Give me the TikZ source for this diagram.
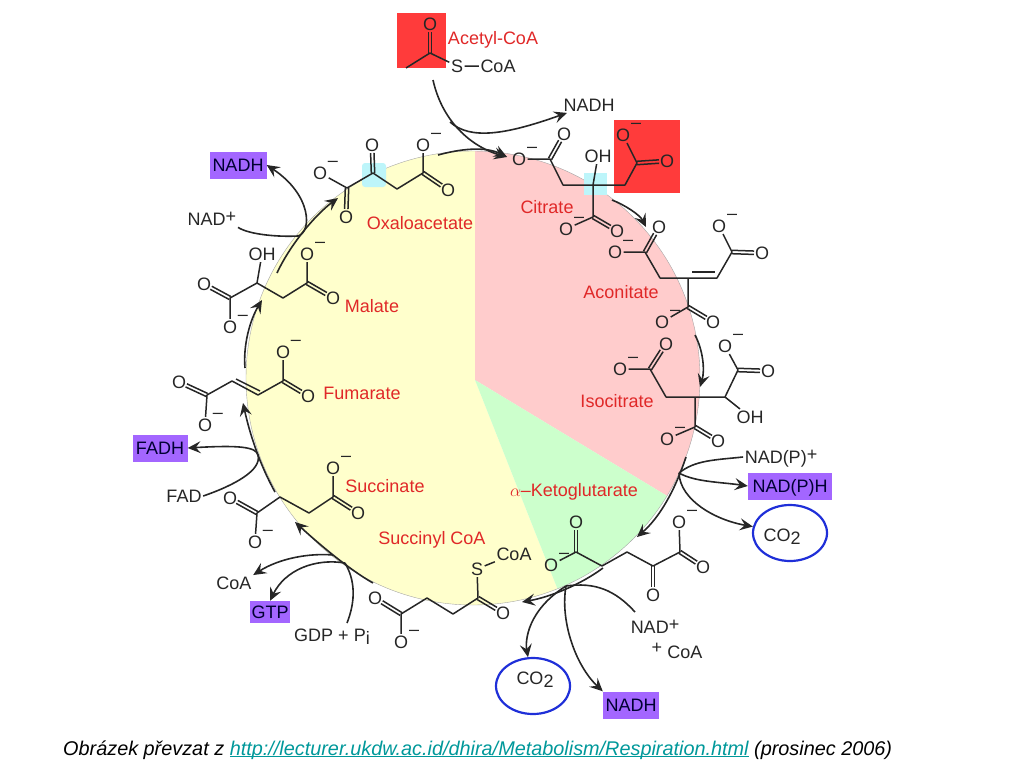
\documentclass[tikz,border=0pt]{standalone}
\usepackage{fontspec}
\setmainfont{Liberation Sans}
\usetikzlibrary{arrows.meta,calc,shapes.geometric}

\definecolor{yellowpie}{HTML}{FFFFCC}
\definecolor{pinkpie}{HTML}{FFCCCC}
\definecolor{greenpie}{HTML}{CCFFCC}
\definecolor{redbox}{HTML}{FF3B3B}
\definecolor{cyanbox}{HTML}{BDF5FA}
\definecolor{purplebox}{HTML}{A366FF}
\definecolor{redtext}{HTML}{E02828}
\definecolor{ringblue}{HTML}{1F2FD8}
\definecolor{linkteal}{HTML}{00989A}
\definecolor{ink}{HTML}{262626}

\tikzset{
  atom/.style={inner sep=1.5pt,text=ink,font=\fontsize{18}{20}\selectfont},
  neg/.style={atom,label={[inner sep=0pt,text=ink,font=\fontsize{18}{20}\selectfont,xshift=13pt,yshift=9pt]center:--}},
  metab/.style={inner sep=1pt,text depth=0pt,text=redtext,font=\fontsize{18}{20}\selectfont},
  lbl/.style={inner sep=1.5pt,text depth=0pt,text=ink,font=\fontsize{18}{20}\selectfont},
  cofact/.style={fill=purplebox,inner sep=0pt,text depth=0pt,minimum height=27pt,text=black!80!blue,font=\fontsize{18}{20}\selectfont},
  ring/.style={ellipse,draw=ringblue,line width=2.2pt,minimum width=74pt,minimum height=56pt,inner sep=0pt},
  bond/.style={draw=ink,line width=1.5pt,line join=round},
  arr/.style={draw=ink,line width=1.6pt,-{Stealth[length=13pt,width=12pt,inset=5pt]}},
  noarr/.style={draw=ink,line width=1.6pt},
}
\newcommand{\dbond}[2]{%
\draw[bond,shorten >=8pt] ($(#1)!1.7pt!90:(#2)$) -- ($(#2)!1.7pt!-90:(#1)$);
\draw[bond,shorten >=8pt] ($(#1)!1.7pt!-90:(#2)$) -- ($(#2)!1.7pt!90:(#1)$);}

\begin{document}
\begin{tikzpicture}[x=1pt,y=-1pt]
\useasboundingbox (0,0) rectangle (1024,768);

% pie
\begin{scope}
\clip (473,378) circle (227);
\fill[yellowpie] (475,100) -- (475,380) -- (584,656) -- (200,656) -- (200,100) -- cycle;
\fill[pinkpie] (475,380) -- (475,100) -- (750,100) -- (750,546) -- cycle;
\fill[greenpie] (475,380) -- (750,546) -- (584,656) -- cycle;
\end{scope}
\draw[black!35,line width=.4pt] (473,378) circle (227);

% coloured boxes
\fill[redbox] (397,13) rectangle (446,68);
\fill[redbox] (614,120) rectangle (680,193);
\fill[cyanbox] (584,173) rectangle (607,195);
\fill[cyanbox,rounded corners=3pt] (362,163) rectangle (386,187);

% acetyl
\node[atom] (aceO) at (430,24) {O};
\node[atom] (aceS) at (457,66) {S};
\node[atom] (aceCoA) at (498,66) {CoA};
\node[metab] (aceName) at (493,38) {Acetyl-CoA};
\coordinate (aceC) at (430,53);
\coordinate (aceMe) at (406,68);
\draw[bond] (aceMe) -- (aceC) -- (aceS) -- (aceCoA);
\dbond{aceC}{aceO}

% citrate
\node[neg] (citOa) at (519,159) {O};
\node[atom] (citOb) at (564,134) {O};
\node[atom] (citOc) at (667,161) {O};
\node[neg] (citOd) at (623,135) {O};
\node[atom] (citOH) at (598,156) {OH};
\node[neg] (citOe) at (566,229) {O};
\node[atom] (citOf) at (617,231) {O};
\node[metab] (citName) at (547,207) {Citrate};
\coordinate (citCa) at (550,159);
\coordinate (citCb) at (563,185);
\coordinate (citCc) at (593,185);
\coordinate (citCd) at (625,185);
\coordinate (citCe) at (637,163);
\coordinate (citCf) at (593,217);
\draw[bond] (citOa) -- (citCa) -- (citCb) -- (citCc) -- (citCd) -- (citCe) -- (citOd);
\draw[bond] (citOH) -- (citCc) -- (citCf) -- (citOe);
\dbond{citCa}{citOb}
\dbond{citCe}{citOc}
\dbond{citCf}{citOf}

% aconitate
\node[neg] (acoOa) at (615,252) {O};
\node[atom] (acoOb) at (659,227) {O};
\node[atom] (acoOc) at (762,253) {O};
\node[neg] (acoOd) at (719,226) {O};
\node[neg] (acoOe) at (662,322) {O};
\node[atom] (acoOf) at (713,322) {O};
\node[metab] (acoName) at (621,292) {Aconitate};
\coordinate (acoCa) at (645,252);
\coordinate (acoCb) at (660,278);
\coordinate (acoCc) at (688,278);
\coordinate (acoCd) at (717,278);
\coordinate (acoCe) at (732,252);
\coordinate (acoCf) at (688,307);
\coordinate (acoDa) at (692,272);
\coordinate (acoDb) at (715,272);
\draw[bond] (acoOa) -- (acoCa) -- (acoCb) -- (acoCd) -- (acoCe) -- (acoOd);
\draw[bond] (acoCc) -- (acoCf) -- (acoOe);
\draw[bond] (acoDa) -- (acoDb);
\dbond{acoCa}{acoOb}
\dbond{acoCe}{acoOc}
\dbond{acoCf}{acoOf}

% isocitrate
\node[neg] (isoOa) at (620,369) {O};
\node[atom] (isoOb) at (666,344) {O};
\node[atom] (isoOc) at (768,371) {O};
\node[neg] (isoOd) at (725,346) {O};
\node[neg] (isoOe) at (667,439) {O};
\node[atom] (isoOf) at (718,441) {O};
\node[atom] (isoOH) at (750,417) {OH};
\node[metab] (isoName) at (617,401) {Isocitrate};
\coordinate (isoCa) at (650,369);
\coordinate (isoCb) at (666,397);
\coordinate (isoCc) at (695,397);
\coordinate (isoCd) at (725,397);
\coordinate (isoCe) at (738,370);
\coordinate (isoCf) at (695,427);
\draw[bond] (isoOa) -- (isoCa) -- (isoCb) -- (isoCd) -- (isoCe) -- (isoOd);
\draw[bond] (isoCd) -- (isoOH);
\draw[bond] (isoCc) -- (isoCf) -- (isoOe);
\dbond{isoCa}{isoOb}
\dbond{isoCe}{isoOc}
\dbond{isoCf}{isoOf}

% ketoglutarate
\node[atom] (kgOa) at (576,522) {O};
\node[neg] (kgOb) at (551,565) {O};
\node[atom] (kgOc) at (653,595) {O};
\node[atom] (kgOd) at (703,567) {O};
\node[neg] (kgOe) at (679,522) {O};
\node[metab] (kgName) at (574,490) {$\alpha$--Ketoglutarate};
\coordinate (kgCa) at (576,552);
\coordinate (kgCb) at (602,566);
\coordinate (kgCc) at (627,552);
\coordinate (kgCd) at (653,566);
\coordinate (kgCe) at (680,552);
\draw[bond] (kgOb) -- (kgCa) -- (kgCb) -- (kgCc) -- (kgCd) -- (kgCe) -- (kgOe);
\dbond{kgCa}{kgOa}
\dbond{kgCd}{kgOc}
\dbond{kgCe}{kgOd}

% succinyl coa
\node[atom] (scoS) at (477,569) {S};
\node[atom] (scoCoA) at (514,554) {CoA};
\node[atom] (scoOa) at (503,613) {O};
\node[atom] (scoOb) at (375,598) {O};
\node[neg] (scoOc) at (401,642) {O};
\node[metab] (scoName) at (432,538) {Succinyl CoA};
\coordinate (scoCa) at (478,598);
\coordinate (scoCb) at (453,614);
\coordinate (scoCc) at (427,598);
\coordinate (scoCd) at (401,614);
\draw[bond] (scoCoA) -- (scoS) -- (scoCa) -- (scoCb) -- (scoCc) -- (scoCd) -- (scoOc);
\dbond{scoCa}{scoOa}
\dbond{scoCd}{scoOb}

% succinate
\node[atom] (sucOa) at (230,498) {O};
\node[neg] (sucOb) at (255,542) {O};
\node[atom] (sucOc) at (358,513) {O};
\node[neg] (sucOd) at (333,468) {O};
\node[metab] (sucName) at (385,486) {Succinate};
\coordinate (sucCa) at (257,513);
\coordinate (sucCb) at (280,497);
\coordinate (sucCc) at (309,513);
\coordinate (sucCd) at (333,497);
\draw[bond] (sucOb) -- (sucCa) -- (sucCb) -- (sucCc) -- (sucCd) -- (sucOd);
\dbond{sucCa}{sucOa}
\dbond{sucCd}{sucOc}

% fumarate
\node[atom] (fumOa) at (179,382) {O};
\node[neg] (fumOb) at (205,425) {O};
\node[atom] (fumOc) at (308,396) {O};
\node[neg] (fumOd) at (283,352) {O};
\node[metab] (fumName) at (362,393) {Fumarate};
\coordinate (fumCa) at (207,395);
\coordinate (fumCb) at (232,381);
\coordinate (fumCc) at (258,395);
\coordinate (fumCd) at (283,381);
\coordinate (fumDa) at (236,379);
\coordinate (fumDb) at (260,391);
\draw[bond] (fumOb) -- (fumCa) -- (fumCb) -- (fumCc) -- (fumCd) -- (fumOd);
\draw[bond] (fumDa) -- (fumDb);
\dbond{fumCa}{fumOa}
\dbond{fumCd}{fumOc}

% malate
\node[atom] (malOH) at (262,254) {OH};
\node[atom] (malOa) at (204,284) {O};
\node[neg] (malOb) at (230,327) {O};
\node[atom] (malOc) at (333,298) {O};
\node[neg] (malOd) at (307,254) {O};
\node[metab] (malName) at (372,306) {Malate};
\coordinate (malCa) at (230,298);
\coordinate (malCb) at (257,283);
\coordinate (malCc) at (283,298);
\coordinate (malCd) at (307,283);
\draw[bond] (malOb) -- (malCa) -- (malCb) -- (malCc) -- (malCd) -- (malOd);
\draw[bond] (malOH) -- (malCb);
\dbond{malCa}{malOa}
\dbond{malCd}{malOc}

% oxaloacetate
\node[neg] (oxaOa) at (320,173) {O};
\node[atom] (oxaOb) at (346,217) {O};
\node[atom] (oxaOc) at (372,145) {O};
\node[neg] (oxaOd) at (423,145) {O};
\node[atom] (oxaOe) at (448,190) {O};
\node[metab] (oxaName) at (420,223) {Oxaloacetate};
\coordinate (oxaCa) at (347,188);
\coordinate (oxaCb) at (373,173);
\coordinate (oxaCc) at (397,189);
\coordinate (oxaCd) at (423,173);
\draw[bond] (oxaOa) -- (oxaCa) -- (oxaCb) -- (oxaCc) -- (oxaCd) -- (oxaOd);
\dbond{oxaCa}{oxaOb}
\dbond{oxaCb}{oxaOc}
\dbond{oxaCd}{oxaOe}

% cofactors
\node[cofact,minimum width=57pt] (nadhOxa) at (238,165) {NADH};
\node[cofact,minimum width=55pt] (fadh) at (160,448) {FADH};
\node[cofact,minimum width=40pt,minimum height=22pt] (gtp) at (270,612) {GTP};
\node[cofact,minimum width=56pt] (nadhKg) at (631,705) {NADH};
\node[cofact,minimum width=84pt] (nadpH) at (790,486) {NAD(P)H};
\node[lbl] (nadhTop) at (589,105) {NADH};
\node[lbl] (nadOxa) at (212,219) {NAD\raisebox{3pt}{+}};
\node[lbl] (fad) at (184,496) {FAD};
\node[lbl] (coaOut) at (234,583) {CoA};
\node[lbl] (gdp) at (332,635) {GDP + P\raisebox{-3pt}{i}};
\node[lbl] (nadKg) at (655,627) {NAD\raisebox{3pt}{+}};
\node[lbl] (coaIn) at (677,651) {\raisebox{5pt}{+} CoA};
\node[lbl] (nadpPlus) at (781,457) {NAD(P)\raisebox{3pt}{+}};
\node[lbl] (coA) at (782,535) {CO\raisebox{-3pt}{2}};
\node[lbl] (coB) at (535,678) {CO\raisebox{-3pt}{2}};
\node[ring] (ringA) at (790,533) {};
\node[ring] (ringB) at (533,686) {};

% cycle arrows
\coordinate (aceTail) at (433,80);
\coordinate (aceFork) at (450,122);
\coordinate (citIn) at (507,157);
\coordinate (oxaTail) at (438,155);
\coordinate (citTail) at (612,200);
\coordinate (acoIn) at (646,227);
\coordinate (acoTail) at (695,335);
\coordinate (isoIn) at (700,387);
\coordinate (isoTail) at (686,457);
\coordinate (isoFork) at (679,473);
\coordinate (kgIn) at (637,537);
\coordinate (kgTail) at (603,568);
\coordinate (kgFork) at (566,586);
\coordinate (scoIn) at (522,602);
\coordinate (scoTail) at (373,583);
\coordinate (scoFork) at (345,563);
\coordinate (scoForkB) at (333,555);
\coordinate (sucIn) at (295,522);
\coordinate (sucTail) at (275,492);
\coordinate (sucFork) at (258,455);
\coordinate (fumIn) at (243,403);
\coordinate (fumTail) at (245,368);
\coordinate (malIn) at (262,300);
\coordinate (malTail) at (277,273);
\coordinate (malFork) at (298,236);
\coordinate (oxaIn) at (338,198);
\coordinate (gdpOut) at (347,623);
\coordinate (nadTail) at (635,612);
\draw[arr] (aceTail) .. controls (443,125) and (475,148) .. (citIn);
\draw[arr] (oxaTail) .. controls (460,149) and (485,146) .. (citIn);
\draw[arr] (citTail) .. controls (625,205) and (640,215) .. (acoIn);
\draw[arr] (acoTail) .. controls (703,350) and (705,370) .. (isoIn);
\draw[arr] (isoTail) .. controls (675,490) and (660,517) .. (kgIn);
\draw[arr] (kgTail) .. controls (580,585) and (550,597) .. (scoIn);
\draw[arr] (scoTail) .. controls (350,570) and (320,545) .. (sucIn);
\draw[arr] (sucTail) .. controls (260,465) and (250,435) .. (fumIn);
\draw[arr] (fumTail) .. controls (243,345) and (250,320) .. (malIn);
\draw[arr] (malTail) .. controls (290,245) and (315,215) .. (oxaIn);

% side arrows
\draw[arr] (aceFork) .. controls (470,140) and (505,135) .. (nadhTop);
\draw[arr] (nadOxa.south east) .. controls (250,235) and (280,237) .. (malFork) .. controls (312,232) and (312,195) .. (nadhOxa.east);
\draw[arr] (fad.east) .. controls (235,485) and (262,470) .. (sucFork) .. controls (256,447) and (240,445) .. (fadh.east);
\draw[arr] (scoForkB) .. controls (310,553) and (280,558) .. (coaOut.north east);
\draw[arr] (scoFork) .. controls (315,558) and (285,570) .. (gtp.north);
\draw[noarr] (gdpOut) .. controls (356,600) and (355,580) .. (scoFork);
\draw[noarr] (nadTail) .. controls (615,590) and (595,582) .. (kgFork);
\draw[arr] (kgFork) .. controls (528,610) and (525,640) .. (ringB);
\draw[arr] (kgFork) .. controls (560,620) and (575,665) .. (nadhKg.north west);
\draw[noarr] (nadpPlus.west) .. controls (715,460) and (695,460) .. (isoFork);
\draw[arr] (isoFork) .. controls (695,482) and (720,482) .. (nadpH.west);
\draw[arr] (isoFork) .. controls (680,500) and (715,520) .. (ringA);

% caption
\node[anchor=west,inner sep=0pt,font=\fontsize{19.85}{22}\selectfont\itshape] (caption) at (63,750) {Obrázek převzat z \textcolor{linkteal}{\underline{\smash{http://lecturer.ukdw.ac.id/dhira/Metabolism/Respiration.html}}} (prosinec 2006)};

\end{tikzpicture}
\end{document}
